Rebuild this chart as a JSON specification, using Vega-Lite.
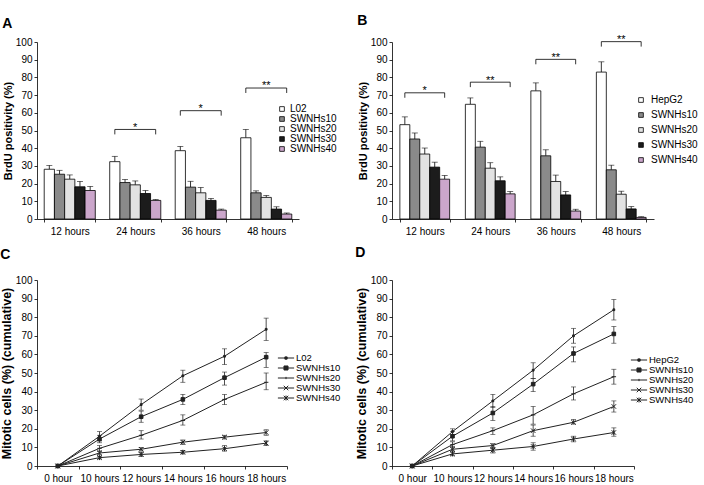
{
  "$schema": "https://vega.github.io/schema/vega-lite/v6.json",
  "padding": {"left": 0, "top": 14, "right": 0, "bottom": 0},
  "config": {
    "font": "Liberation Sans",
    "view": {"stroke": null},
    "axis": {"labelFont": "Liberation Sans", "labelFontSize": 10, "labelColor": "#000", "domainColor": "#000", "tickColor": "#000", "titleFont": "Liberation Sans", "titleFontSize": 11, "titleFontWeight": "bold", "titleColor": "#000", "grid": false, "tickSize": 3, "domainWidth": 0.8, "tickWidth": 0.8},
    "axisY": {"labelPadding": 2, "titlePadding": 2, "labelOverlap": false},
    "axisX": {"labelPadding": 4},
    "legend": {"labelFont": "Liberation Sans", "labelFontSize": 10, "labelColor": "#000"},
    "title": {"font": "Liberation Sans", "color": "#000"}
  },
  "resolve": {"scale": {"color": "independent", "shape": "independent", "xOffset": "independent", "x": "independent", "y": "independent"}, "legend": {"color": "independent", "shape": "independent"}},
  "datasets": {
    "barsA": [
      {"time": "12 hours", "series": "L02", "v": 28.1, "hi": 30.3},
      {"time": "12 hours", "series": "SWNHs10", "v": 25.3, "hi": 27.5},
      {"time": "12 hours", "series": "SWNHs20", "v": 22.5, "hi": 24.9},
      {"time": "12 hours", "series": "SWNHs30", "v": 18.2, "hi": 21.2},
      {"time": "12 hours", "series": "SWNHs40", "v": 16.1, "hi": 18.4},
      {"time": "24 hours", "series": "L02", "v": 32.4, "hi": 35.4},
      {"time": "24 hours", "series": "SWNHs10", "v": 20.6, "hi": 22.3},
      {"time": "24 hours", "series": "SWNHs20", "v": 19.3, "hi": 21.5},
      {"time": "24 hours", "series": "SWNHs30", "v": 14.4, "hi": 16.1},
      {"time": "24 hours", "series": "SWNHs40", "v": 10.5, "hi": 11.0},
      {"time": "36 hours", "series": "L02", "v": 38.6, "hi": 41.0},
      {"time": "36 hours", "series": "SWNHs10", "v": 18.0, "hi": 21.3},
      {"time": "36 hours", "series": "SWNHs20", "v": 14.8, "hi": 17.8},
      {"time": "36 hours", "series": "SWNHs30", "v": 10.5, "hi": 11.6},
      {"time": "36 hours", "series": "SWNHs40", "v": 5.0, "hi": 5.6},
      {"time": "48 hours", "series": "L02", "v": 45.9, "hi": 50.6},
      {"time": "48 hours", "series": "SWNHs10", "v": 14.8, "hi": 15.9},
      {"time": "48 hours", "series": "SWNHs20", "v": 12.2, "hi": 13.3},
      {"time": "48 hours", "series": "SWNHs30", "v": 5.6, "hi": 6.9},
      {"time": "48 hours", "series": "SWNHs40", "v": 2.8, "hi": 3.4}
    ],
    "barsB": [
      {"time": "12 hours", "series": "HepG2", "v": 53.3, "hi": 57.7},
      {"time": "12 hours", "series": "SWNHs10", "v": 45.2, "hi": 48.6},
      {"time": "12 hours", "series": "SWNHs20", "v": 36.7, "hi": 40.1},
      {"time": "12 hours", "series": "SWNHs30", "v": 29.3, "hi": 32.1},
      {"time": "12 hours", "series": "SWNHs40", "v": 22.5, "hi": 24.6},
      {"time": "24 hours", "series": "HepG2", "v": 64.8, "hi": 68.4},
      {"time": "24 hours", "series": "SWNHs10", "v": 40.6, "hi": 43.9},
      {"time": "24 hours", "series": "SWNHs20", "v": 28.7, "hi": 31.8},
      {"time": "24 hours", "series": "SWNHs30", "v": 21.6, "hi": 23.8},
      {"time": "24 hours", "series": "SWNHs40", "v": 14.2, "hi": 15.5},
      {"time": "36 hours", "series": "HepG2", "v": 72.4, "hi": 76.9},
      {"time": "36 hours", "series": "SWNHs10", "v": 35.7, "hi": 39.1},
      {"time": "36 hours", "series": "SWNHs20", "v": 21.2, "hi": 24.8},
      {"time": "36 hours", "series": "SWNHs30", "v": 13.6, "hi": 15.5},
      {"time": "36 hours", "series": "SWNHs40", "v": 4.5, "hi": 5.5},
      {"time": "48 hours", "series": "HepG2", "v": 83.0, "hi": 88.8},
      {"time": "48 hours", "series": "SWNHs10", "v": 27.8, "hi": 30.4},
      {"time": "48 hours", "series": "SWNHs20", "v": 14.0, "hi": 15.7},
      {"time": "48 hours", "series": "SWNHs30", "v": 5.7, "hi": 7.0},
      {"time": "48 hours", "series": "SWNHs40", "v": 0.9, "hi": 1.3}
    ],
    "brA": [
      {"time": "24 hours", "series": "L02", "y": 47.8, "ord": 1},
      {"time": "24 hours", "series": "L02", "y": 50.6, "ord": 2},
      {"time": "24 hours", "series": "SWNHs40", "y": 50.6, "ord": 3},
      {"time": "24 hours", "series": "SWNHs40", "y": 47.8, "ord": 4},
      {"time": "36 hours", "series": "L02", "y": 58.4, "ord": 1},
      {"time": "36 hours", "series": "L02", "y": 61.2, "ord": 2},
      {"time": "36 hours", "series": "SWNHs40", "y": 61.2, "ord": 3},
      {"time": "36 hours", "series": "SWNHs40", "y": 58.4, "ord": 4},
      {"time": "48 hours", "series": "L02", "y": 71.2, "ord": 1},
      {"time": "48 hours", "series": "L02", "y": 74.0, "ord": 2},
      {"time": "48 hours", "series": "SWNHs40", "y": 74.0, "ord": 3},
      {"time": "48 hours", "series": "SWNHs40", "y": 71.2, "ord": 4}
    ],
    "starA": [
      {"time": "24 hours", "y": 49.8, "label": "*"},
      {"time": "36 hours", "y": 60.4, "label": "*"},
      {"time": "48 hours", "y": 73.2, "label": "**"}
    ],
    "brB": [
      {"time": "12 hours", "series": "HepG2", "y": 68.5, "ord": 1},
      {"time": "12 hours", "series": "HepG2", "y": 71.3, "ord": 2},
      {"time": "12 hours", "series": "SWNHs40", "y": 71.3, "ord": 3},
      {"time": "12 hours", "series": "SWNHs40", "y": 68.5, "ord": 4},
      {"time": "24 hours", "series": "HepG2", "y": 74.5, "ord": 1},
      {"time": "24 hours", "series": "HepG2", "y": 77.3, "ord": 2},
      {"time": "24 hours", "series": "SWNHs40", "y": 77.3, "ord": 3},
      {"time": "24 hours", "series": "SWNHs40", "y": 74.5, "ord": 4},
      {"time": "36 hours", "series": "HepG2", "y": 87.4, "ord": 1},
      {"time": "36 hours", "series": "HepG2", "y": 90.2, "ord": 2},
      {"time": "36 hours", "series": "SWNHs40", "y": 90.2, "ord": 3},
      {"time": "36 hours", "series": "SWNHs40", "y": 87.4, "ord": 4},
      {"time": "48 hours", "series": "HepG2", "y": 97.4, "ord": 1},
      {"time": "48 hours", "series": "HepG2", "y": 100.2, "ord": 2},
      {"time": "48 hours", "series": "SWNHs40", "y": 100.2, "ord": 3},
      {"time": "48 hours", "series": "SWNHs40", "y": 97.4, "ord": 4}
    ],
    "starB": [
      {"time": "12 hours", "y": 70.5, "label": "*"},
      {"time": "24 hours", "y": 76.5, "label": "**"},
      {"time": "36 hours", "y": 89.4, "label": "**"},
      {"time": "48 hours", "y": 99.4, "label": "**"}
    ],
    "linesC": [
      {"time": "0 hour", "series": "L02", "v": 0, "lo": null, "hi": null},
      {"time": "10 hours", "series": "L02", "v": 16, "lo": 13.5, "hi": 18.5},
      {"time": "12 hours", "series": "L02", "v": 33, "lo": 30, "hi": 36},
      {"time": "14 hours", "series": "L02", "v": 48.5, "lo": 45, "hi": 51.5},
      {"time": "16 hours", "series": "L02", "v": 59, "lo": 54.5, "hi": 63},
      {"time": "18 hours", "series": "L02", "v": 73.5, "lo": 67.5, "hi": 79.5},
      {"time": "0 hour", "series": "SWNHs10", "v": 0, "lo": null, "hi": null},
      {"time": "10 hours", "series": "SWNHs10", "v": 14.5, "lo": 12.5, "hi": 16.5},
      {"time": "12 hours", "series": "SWNHs10", "v": 26.5, "lo": 23.5, "hi": 29.5},
      {"time": "14 hours", "series": "SWNHs10", "v": 35.8, "lo": 33, "hi": 38.5},
      {"time": "16 hours", "series": "SWNHs10", "v": 47.5, "lo": 43.5, "hi": 50.5},
      {"time": "18 hours", "series": "SWNHs10", "v": 58.5, "lo": 53, "hi": 61},
      {"time": "0 hour", "series": "SWNHs20", "v": 0, "lo": null, "hi": null},
      {"time": "10 hours", "series": "SWNHs20", "v": 9.5, "lo": 8, "hi": 11},
      {"time": "12 hours", "series": "SWNHs20", "v": 16.5, "lo": 14.5, "hi": 19},
      {"time": "14 hours", "series": "SWNHs20", "v": 24.5, "lo": 22, "hi": 27.5},
      {"time": "16 hours", "series": "SWNHs20", "v": 35.8, "lo": 33, "hi": 38.5},
      {"time": "18 hours", "series": "SWNHs20", "v": 45, "lo": 41, "hi": 50},
      {"time": "0 hour", "series": "SWNHs30", "v": 0, "lo": null, "hi": null},
      {"time": "10 hours", "series": "SWNHs30", "v": 7, "lo": 6, "hi": 8},
      {"time": "12 hours", "series": "SWNHs30", "v": 9, "lo": 8, "hi": 10},
      {"time": "14 hours", "series": "SWNHs30", "v": 12.8, "lo": 11.5, "hi": 14},
      {"time": "16 hours", "series": "SWNHs30", "v": 15.5, "lo": 14.5, "hi": 16.5},
      {"time": "18 hours", "series": "SWNHs30", "v": 18, "lo": 16.5, "hi": 19.5},
      {"time": "0 hour", "series": "SWNHs40", "v": 0, "lo": null, "hi": null},
      {"time": "10 hours", "series": "SWNHs40", "v": 4.5, "lo": 3.8, "hi": 5.2},
      {"time": "12 hours", "series": "SWNHs40", "v": 6.2, "lo": 5.2, "hi": 7.2},
      {"time": "14 hours", "series": "SWNHs40", "v": 7.4, "lo": 6.5, "hi": 8.3},
      {"time": "16 hours", "series": "SWNHs40", "v": 9.3, "lo": 8, "hi": 11},
      {"time": "18 hours", "series": "SWNHs40", "v": 12.3, "lo": 11, "hi": 13.5}
    ],
    "linesD": [
      {"time": "0 hour", "series": "HepG2", "v": 0, "lo": null, "hi": null},
      {"time": "10 hours", "series": "HepG2", "v": 18.5, "lo": 17, "hi": 20},
      {"time": "12 hours", "series": "HepG2", "v": 35, "lo": 31.5, "hi": 38.5},
      {"time": "14 hours", "series": "HepG2", "v": 51.5, "lo": 47, "hi": 55.5},
      {"time": "16 hours", "series": "HepG2", "v": 70, "lo": 66, "hi": 74},
      {"time": "18 hours", "series": "HepG2", "v": 84, "lo": 78.5, "hi": 89.5},
      {"time": "0 hour", "series": "SWNHs10", "v": 0, "lo": null, "hi": null},
      {"time": "10 hours", "series": "SWNHs10", "v": 16, "lo": 13.5, "hi": 18.5},
      {"time": "12 hours", "series": "SWNHs10", "v": 28.5, "lo": 24.5, "hi": 32},
      {"time": "14 hours", "series": "SWNHs10", "v": 44, "lo": 40, "hi": 47},
      {"time": "16 hours", "series": "SWNHs10", "v": 60.5, "lo": 56, "hi": 64},
      {"time": "18 hours", "series": "SWNHs10", "v": 71, "lo": 66, "hi": 75},
      {"time": "0 hour", "series": "SWNHs20", "v": 0, "lo": null, "hi": null},
      {"time": "10 hours", "series": "SWNHs20", "v": 11.5, "lo": 10, "hi": 13},
      {"time": "12 hours", "series": "SWNHs20", "v": 19, "lo": 17, "hi": 20.5},
      {"time": "14 hours", "series": "SWNHs20", "v": 27.5, "lo": 22.5, "hi": 32},
      {"time": "16 hours", "series": "SWNHs20", "v": 38.8, "lo": 35.5, "hi": 42.5},
      {"time": "18 hours", "series": "SWNHs20", "v": 48, "lo": 44, "hi": 52},
      {"time": "0 hour", "series": "SWNHs30", "v": 0, "lo": null, "hi": null},
      {"time": "10 hours", "series": "SWNHs30", "v": 9, "lo": 7.5, "hi": 10.5},
      {"time": "12 hours", "series": "SWNHs30", "v": 11, "lo": 9.5, "hi": 12},
      {"time": "14 hours", "series": "SWNHs30", "v": 19, "lo": 16, "hi": 22},
      {"time": "16 hours", "series": "SWNHs30", "v": 23.5, "lo": 22.5, "hi": 25},
      {"time": "18 hours", "series": "SWNHs30", "v": 32, "lo": 29, "hi": 35},
      {"time": "0 hour", "series": "SWNHs40", "v": 0, "lo": null, "hi": null},
      {"time": "10 hours", "series": "SWNHs40", "v": 6.5, "lo": 5.5, "hi": 8},
      {"time": "12 hours", "series": "SWNHs40", "v": 8.5, "lo": 7, "hi": 10},
      {"time": "14 hours", "series": "SWNHs40", "v": 10.5, "lo": 8.5, "hi": 12.5},
      {"time": "16 hours", "series": "SWNHs40", "v": 14.5, "lo": 13, "hi": 16},
      {"time": "18 hours", "series": "SWNHs40", "v": 18, "lo": 16, "hi": 20.5}
    ]
  },
  "columns": 2,
  "bounds": "flush",
  "spacing": {"column": 93, "row": 61},
  "concat": [
    {
      "width": 262, "height": 177,
      "title": {"text": "A", "anchor": "start", "frame": "bounds", "fontSize": 14, "fontWeight": "bold", "offset": 6},
      "layer": [
        {"data": {"name": "barsA"}, "mark": {"type": "rule", "color": "#000", "strokeWidth": 0.8},
          "encoding": {
            "x": {"field": "time", "type": "nominal", "scale": {"paddingInner": 0.22, "paddingOuter": 0.11}, "axis": {"title": null, "labelAngle": 0, "tickBand": "extent"}},
            "xOffset": {"field": "series", "type": "nominal", "scale": {"domain": ["L02", "SWNHs10", "SWNHs20", "SWNHs30", "SWNHs40"]}},
            "y": {"field": "v", "type": "quantitative", "title": "BrdU positivity (%)", "scale": {"domain": [0, 100], "nice": false}, "axis": {"values": [0, 10, 20, 30, 40, 50, 60, 70, 80, 90, 100]}},
            "y2": {"field": "hi"}}},
        {"data": {"name": "barsA"}, "mark": {"type": "tick", "color": "#000", "size": 6, "thickness": 0.8},
          "encoding": {"x": {"field": "time", "type": "nominal"}, "xOffset": {"field": "series", "type": "nominal"}, "y": {"field": "hi", "type": "quantitative", "title": "BrdU positivity (%)", "axis": {"values": [0, 10, 20, 30, 40, 50, 60, 70, 80, 90, 100]}}}},
        {"data": {"name": "barsA"}, "mark": {"type": "bar", "stroke": "#000", "strokeWidth": 0.8},
          "encoding": {"x": {"field": "time", "type": "nominal"}, "xOffset": {"field": "series", "type": "nominal"}, "y": {"field": "v", "type": "quantitative", "title": "BrdU positivity (%)", "axis": {"values": [0, 10, 20, 30, 40, 50, 60, 70, 80, 90, 100]}},
            "color": {"field": "series", "type": "nominal", "scale": {"domain": ["L02", "SWNHs10", "SWNHs20", "SWNHs30", "SWNHs40"], "range": ["#ffffff", "#8a8a8a", "#e2e2e2", "#1c1c1c", "#cba6cb"]},
              "legend": {"title": null, "orient": "none", "legendX": 240, "legendY": 62, "symbolType": "square", "symbolSize": 22, "symbolStrokeColor": "#000", "symbolStrokeWidth": 0.8, "rowPadding": 0, "labelOffset": 3}}}},
        {"data": {"name": "brA"}, "mark": {"type": "line", "color": "#000", "strokeWidth": 0.8},
          "encoding": {"x": {"field": "time", "type": "nominal"}, "xOffset": {"field": "series", "type": "nominal"}, "y": {"field": "y", "type": "quantitative", "title": "BrdU positivity (%)", "axis": {"values": [0, 10, 20, 30, 40, 50, 60, 70, 80, 90, 100]}}, "detail": {"field": "time"}, "order": {"field": "ord"}}},
        {"data": {"name": "starA"}, "mark": {"type": "text", "fontSize": 11, "baseline": "alphabetic", "color": "#000"},
          "encoding": {"x": {"field": "time", "type": "nominal"}, "y": {"field": "y", "type": "quantitative", "title": "BrdU positivity (%)", "axis": {"values": [0, 10, 20, 30, 40, 50, 60, 70, 80, 90, 100]}}, "text": {"field": "label"}}}
      ]
    },
    {
      "width": 262, "height": 177,
      "title": {"text": "B", "anchor": "start", "frame": "bounds", "fontSize": 14, "fontWeight": "bold", "offset": 6},
      "layer": [
        {"data": {"name": "barsB"}, "mark": {"type": "rule", "color": "#000", "strokeWidth": 0.8},
          "encoding": {
            "x": {"field": "time", "type": "nominal", "scale": {"paddingInner": 0.24, "paddingOuter": 0.12}, "axis": {"title": null, "labelAngle": 0, "tickBand": "extent"}},
            "xOffset": {"field": "series", "type": "nominal", "scale": {"domain": ["HepG2", "SWNHs10", "SWNHs20", "SWNHs30", "SWNHs40"]}},
            "y": {"field": "v", "type": "quantitative", "title": "BrdU positivity (%)", "scale": {"domain": [0, 100], "nice": false}, "axis": {"values": [0, 10, 20, 30, 40, 50, 60, 70, 80, 90, 100]}},
            "y2": {"field": "hi"}}},
        {"data": {"name": "barsB"}, "mark": {"type": "tick", "color": "#000", "size": 6, "thickness": 0.8},
          "encoding": {"x": {"field": "time", "type": "nominal"}, "xOffset": {"field": "series", "type": "nominal"}, "y": {"field": "hi", "type": "quantitative", "title": "BrdU positivity (%)", "axis": {"values": [0, 10, 20, 30, 40, 50, 60, 70, 80, 90, 100]}}}},
        {"data": {"name": "barsB"}, "mark": {"type": "bar", "stroke": "#000", "strokeWidth": 0.8},
          "encoding": {"x": {"field": "time", "type": "nominal"}, "xOffset": {"field": "series", "type": "nominal"}, "y": {"field": "v", "type": "quantitative", "title": "BrdU positivity (%)", "axis": {"values": [0, 10, 20, 30, 40, 50, 60, 70, 80, 90, 100]}},
            "color": {"field": "series", "type": "nominal", "scale": {"domain": ["HepG2", "SWNHs10", "SWNHs20", "SWNHs30", "SWNHs40"], "range": ["#ffffff", "#8a8a8a", "#e2e2e2", "#1c1c1c", "#cba6cb"]},
              "legend": {"title": null, "orient": "none", "legendX": 244, "legendY": 53, "symbolType": "square", "symbolSize": 22, "symbolStrokeColor": "#000", "symbolStrokeWidth": 0.8, "rowPadding": 5, "labelOffset": 5}}}},
        {"data": {"name": "brB"}, "mark": {"type": "line", "color": "#000", "strokeWidth": 0.8},
          "encoding": {"x": {"field": "time", "type": "nominal"}, "xOffset": {"field": "series", "type": "nominal"}, "y": {"field": "y", "type": "quantitative", "title": "BrdU positivity (%)", "axis": {"values": [0, 10, 20, 30, 40, 50, 60, 70, 80, 90, 100]}}, "detail": {"field": "time"}, "order": {"field": "ord"}}},
        {"data": {"name": "starB"}, "mark": {"type": "text", "fontSize": 11, "baseline": "alphabetic", "color": "#000"},
          "encoding": {"x": {"field": "time", "type": "nominal"}, "y": {"field": "y", "type": "quantitative", "title": "BrdU positivity (%)", "axis": {"values": [0, 10, 20, 30, 40, 50, 60, 70, 80, 90, 100]}}, "text": {"field": "label"}}}
      ]
    },
    {
      "width": 250, "height": 186,
      "title": {"text": "C", "anchor": "start", "frame": "bounds", "fontSize": 14, "fontWeight": "bold", "offset": 13},
      "data": {"name": "linesC"},
      "encoding": {
        "x": {"field": "time", "type": "nominal", "scale": {"type": "band", "paddingInner": 0, "paddingOuter": 0}, "axis": {"title": null, "labelAngle": 0, "tickBand": "extent", "labelOverlap": false, "labelLimit": 0}},
        "y": {"field": "v", "type": "quantitative", "title": "Mitotic cells (%) (cumulative)", "scale": {"domain": [0, 100], "nice": false}, "axis": {"values": [0, 10, 20, 30, 40, 50, 60, 70, 80, 90, 100], "titleFontSize": 12.5}}
      },
      "layer": [
        {"mark": {"type": "line", "strokeWidth": 1},
          "encoding": {
            "color": {"field": "series", "type": "nominal", "scale": {"domain": ["L02", "SWNHs10", "SWNHs20", "SWNHs30", "SWNHs40"], "range": ["#222", "#222", "#222", "#222", "#222"]},
              "legend": {"title": null, "orient": "none", "legendX": 244, "legendY": 73, "symbolType": "stroke", "symbolSize": 81, "symbolStrokeWidth": 1, "rowPadding": -1, "labelOffset": 5, "labelFontSize": 9.5,
                "encode": {"symbols": {"update": {"shape": {"signal": "datum.value === 'SWNHs10' ? 'M-1.8,0H1.8M-0.45,-0.45H0.45V0.45H-0.45Z' : datum.value === 'SWNHs20' ? 'M-1.8,0H1.8M0,-0.25V0.25' : datum.value === 'SWNHs30' ? 'M-1.8,0H1.8M-0.5,-0.5L0.5,0.5M-0.5,0.5L0.5,-0.5' : datum.value === 'SWNHs40' ? 'M-1.8,0H1.8M-0.5,-0.5L0.5,0.5M-0.5,0.5L0.5,-0.5M0,-0.55V0.55' : 'M-1.8,0H1.8M-0.25,-0.25H0.25V0.25H-0.25Z'"}, "fill": {"value": "#222"}}}}}}}},
        {"transform": [{"filter": "datum.series === 'L02'"}], "mark": {"type": "point", "shape": "M-0.4,-0.4H0.4V0.4H-0.4Z", "filled": true, "fill": "#222", "stroke": "#222", "strokeWidth": 1, "size": 20, "opacity": 1}},
        {"transform": [{"filter": "datum.series === 'SWNHs10'"}], "mark": {"type": "point", "shape": "M-0.8,-0.8H0.8V0.8H-0.8Z", "filled": true, "fill": "#222", "stroke": "#222", "strokeWidth": 1, "size": 20, "opacity": 1}},
        {"transform": [{"filter": "datum.series === 'SWNHs20'"}], "mark": {"type": "point", "shape": "M-1,0H1", "filled": true, "fill": "#222", "stroke": "#222", "strokeWidth": 1, "size": 20, "opacity": 1}},
        {"transform": [{"filter": "datum.series === 'SWNHs30'"}], "mark": {"type": "point", "shape": "M-1,-1L1,1M-1,1L1,-1", "filled": true, "fill": "#222", "stroke": "#222", "strokeWidth": 1, "size": 20, "opacity": 1}},
        {"transform": [{"filter": "datum.series === 'SWNHs40'"}], "mark": {"type": "point", "shape": "M-1,-1L1,1M-1,1L1,-1M0,-1.1V1.1", "filled": true, "fill": "#222", "stroke": "#222", "strokeWidth": 1, "size": 20, "opacity": 1}},
        {"transform": [{"filter": "datum.lo != null"}], "mark": {"type": "rule", "color": "#222", "strokeWidth": 0.8},
          "encoding": {"y": {"field": "lo", "type": "quantitative"}, "y2": {"field": "hi"}}},
        {"transform": [{"filter": "datum.lo != null"}], "mark": {"type": "tick", "color": "#222", "size": 5, "thickness": 0.8},
          "encoding": {"y": {"field": "lo", "type": "quantitative"}}},
        {"transform": [{"filter": "datum.lo != null"}], "mark": {"type": "tick", "color": "#222", "size": 5, "thickness": 0.8},
          "encoding": {"y": {"field": "hi", "type": "quantitative"}}}
      ]
    },
    {
      "width": 242, "height": 186,
      "title": {"text": "D", "anchor": "start", "frame": "bounds", "fontSize": 14, "fontWeight": "bold", "offset": 15},
      "data": {"name": "linesD"},
      "encoding": {
        "x": {"field": "time", "type": "nominal", "scale": {"type": "band", "paddingInner": 0, "paddingOuter": 0}, "axis": {"title": null, "labelAngle": 0, "tickBand": "extent", "labelOverlap": false, "labelLimit": 0}},
        "y": {"field": "v", "type": "quantitative", "title": "Mitotic cells (%) (cumulative)", "scale": {"domain": [0, 100], "nice": false}, "axis": {"values": [0, 10, 20, 30, 40, 50, 60, 70, 80, 90, 100], "titleFontSize": 12.5}}
      },
      "layer": [
        {"mark": {"type": "line", "strokeWidth": 1},
          "encoding": {
            "color": {"field": "series", "type": "nominal", "scale": {"domain": ["HepG2", "SWNHs10", "SWNHs20", "SWNHs30", "SWNHs40"], "range": ["#222", "#222", "#222", "#222", "#222"]},
              "legend": {"title": null, "orient": "none", "legendX": 242, "legendY": 75, "symbolType": "stroke", "symbolSize": 81, "symbolStrokeWidth": 1, "rowPadding": -1, "labelOffset": 5, "labelFontSize": 9.5,
                "encode": {"symbols": {"update": {"shape": {"signal": "datum.value === 'SWNHs10' ? 'M-1.8,0H1.8M-0.45,-0.45H0.45V0.45H-0.45Z' : datum.value === 'SWNHs20' ? 'M-1.8,0H1.8M0,-0.25V0.25' : datum.value === 'SWNHs30' ? 'M-1.8,0H1.8M-0.5,-0.5L0.5,0.5M-0.5,0.5L0.5,-0.5' : datum.value === 'SWNHs40' ? 'M-1.8,0H1.8M-0.5,-0.5L0.5,0.5M-0.5,0.5L0.5,-0.5M0,-0.55V0.55' : 'M-1.8,0H1.8M-0.25,-0.25H0.25V0.25H-0.25Z'"}, "fill": {"value": "#222"}}}}}}}},
        {"transform": [{"filter": "datum.series === 'HepG2'"}], "mark": {"type": "point", "shape": "M-0.4,-0.4H0.4V0.4H-0.4Z", "filled": true, "fill": "#222", "stroke": "#222", "strokeWidth": 1, "size": 20, "opacity": 1}},
        {"transform": [{"filter": "datum.series === 'SWNHs10'"}], "mark": {"type": "point", "shape": "M-0.8,-0.8H0.8V0.8H-0.8Z", "filled": true, "fill": "#222", "stroke": "#222", "strokeWidth": 1, "size": 20, "opacity": 1}},
        {"transform": [{"filter": "datum.series === 'SWNHs20'"}], "mark": {"type": "point", "shape": "M-1,0H1", "filled": true, "fill": "#222", "stroke": "#222", "strokeWidth": 1, "size": 20, "opacity": 1}},
        {"transform": [{"filter": "datum.series === 'SWNHs30'"}], "mark": {"type": "point", "shape": "M-1,-1L1,1M-1,1L1,-1", "filled": true, "fill": "#222", "stroke": "#222", "strokeWidth": 1, "size": 20, "opacity": 1}},
        {"transform": [{"filter": "datum.series === 'SWNHs40'"}], "mark": {"type": "point", "shape": "M-1,-1L1,1M-1,1L1,-1M0,-1.1V1.1", "filled": true, "fill": "#222", "stroke": "#222", "strokeWidth": 1, "size": 20, "opacity": 1}},
        {"transform": [{"filter": "datum.lo != null"}], "mark": {"type": "rule", "color": "#222", "strokeWidth": 0.8},
          "encoding": {"y": {"field": "lo", "type": "quantitative"}, "y2": {"field": "hi"}}},
        {"transform": [{"filter": "datum.lo != null"}], "mark": {"type": "tick", "color": "#222", "size": 5, "thickness": 0.8},
          "encoding": {"y": {"field": "lo", "type": "quantitative"}}},
        {"transform": [{"filter": "datum.lo != null"}], "mark": {"type": "tick", "color": "#222", "size": 5, "thickness": 0.8},
          "encoding": {"y": {"field": "hi", "type": "quantitative"}}}
      ]
    }
  ]
}
